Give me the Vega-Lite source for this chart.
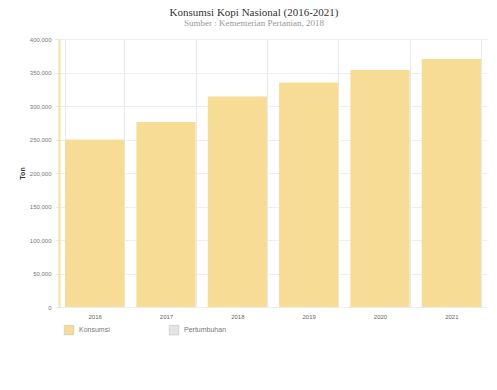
{
  "$schema": "https://vega.github.io/schema/vega-lite/v6.json",
  "autosize": {"type": "none"},
  "width": 428,
  "height": 268,
  "padding": {"left": 59, "top": 39, "right": 10, "bottom": 83},
  "background": "white",
  "config": {"view": {"stroke": null}, "font": "Liberation Sans"},
  "title": {
    "text": "Konsumsi Kopi Nasional (2016-2021)",
    "subtitle": "Sumber : Kementerian Pertanian, 2018",
    "anchor": "middle",
    "dx": -19,
    "offset": 8,
    "font": "Liberation Serif",
    "fontSize": 11,
    "fontWeight": "normal",
    "color": "#333333",
    "subtitleFont": "Liberation Serif",
    "subtitleFontSize": 9,
    "subtitleColor": "#999999",
    "subtitlePadding": 1
  },
  "data": {
    "values": [
      {"tahun": "2016", "seri": "Konsumsi", "ton": 249824},
      {"tahun": "2017", "seri": "Konsumsi", "ton": 276167},
      {"tahun": "2018", "seri": "Konsumsi", "ton": 314353},
      {"tahun": "2019", "seri": "Konsumsi", "ton": 335084},
      {"tahun": "2020", "seri": "Konsumsi", "ton": 353885},
      {"tahun": "2021", "seri": "Konsumsi", "ton": 370160}
    ]
  },
  "mark": {"type": "bar"},
  "encoding": {
    "x": {
      "field": "tahun",
      "type": "ordinal",
      "scale": {"paddingInner": 0.17, "paddingOuter": 0.085},
      "axis": {
        "title": null,
        "labelAngle": 0,
        "labelFontSize": 6,
        "labelColor": "#666666",
        "labelPadding": 6,
        "ticks": false,
        "domain": false,
        "grid": true,
        "gridColor": "#e8e8ee",
        "tickBand": "extent"
      }
    },
    "y": {
      "field": "ton",
      "type": "quantitative",
      "scale": {"domain": [0, 400000]},
      "axis": {
        "title": "Ton",
        "titleFontSize": 7,
        "titleColor": "#333333",
        "titlePadding": 4,
        "values": [0, 50000, 100000, 150000, 200000, 250000, 300000, 350000, 400000],
        "format": ",d",
        "labelFontSize": 6,
        "labelColor": "#777777",
        "labelPadding": 4,
        "tickSize": 4,
        "tickColor": "#e8e8ee",
        "domainColor": "#efe2a6",
        "domainWidth": 2,
        "gridColor": "#eeeeee"
      }
    },
    "color": {
      "field": "seri",
      "type": "nominal",
      "scale": {"domain": ["Konsumsi", "Pertumbuhan"], "range": ["#f7dc96", "#e4e4e4"]},
      "legend": {
        "title": null,
        "orient": "none",
        "legendX": 5,
        "legendY": 286,
        "direction": "horizontal",
        "columns": 2,
        "columnPadding": 58,
        "symbolType": "square",
        "symbolSize": 90,
        "symbolStrokeColor": "#bbbbbb",
        "symbolStrokeWidth": 0.5,
        "labelFontSize": 7,
        "labelColor": "#777777",
        "labelOffset": 5
      }
    }
  }
}
